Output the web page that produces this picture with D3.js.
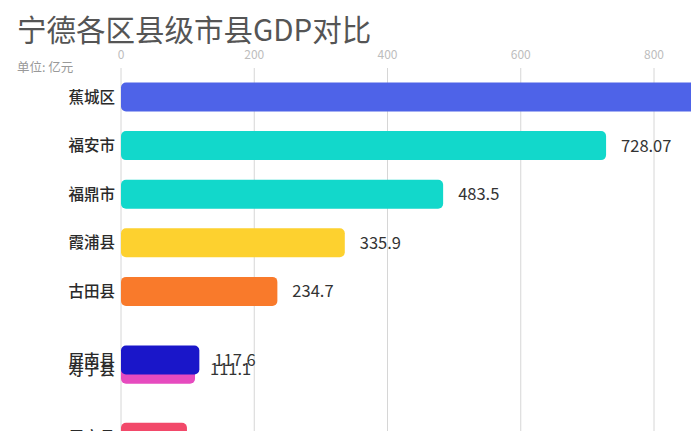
<!DOCTYPE html>
<html><head><meta charset="utf-8">
<script src="https://cdn.jsdelivr.net/npm/d3@7/dist/d3.min.js"></script>
<style>
html,body{margin:0;padding:0;background:#fff;overflow:hidden;}
svg{display:block;font-family:"Noto Sans CJK SC","Noto Sans",sans-serif;}
</style></head>
<body>
<svg id="chart" width="691" height="431"></svg>
<script>
// Data (frame of an animated ranking; rank is the interpolated ranking state)
const categories = ["周宁县","寿宁县","屏南县","古田县","霞浦县","福鼎市","福安市","蕉城区"];
const values     = [99, 111.1, 117.6, 234.7, 335.9, 483.5, 728.07, 925];
const ranks      = [7, 5.6, 5.41, 4, 3, 2, 1, 0];
const colors     = ["#f2496a","#e64bbf","#1a16c9","#f97a2b","#fdd12f","#12d8cb","#12d8cb","#4e63e8"];
const tickValues = [0, 200, 400, 600, 800];
const titleText = "宁德各区县级市县GDP对比";
const unitText = "单位: 亿元";

const svg = d3.select("#chart");
const W = 691, H = 431;
const x = d3.scaleLinear().domain([0, 800]).range([121, 654]);
const y = d3.scaleLinear().domain([0, 1]).range([82.5, 131.1]);
const barH = 29;

// title
svg.append("text").attr("x", 17).attr("y", 41)
  .attr("font-size", 29.5).attr("fill", "#555").text(titleText);
svg.append("text").attr("x", 17).attr("y", 72)
  .attr("font-size", 12.5).attr("fill", "#999").text(unitText);

// grid + tick labels
const g = svg.append("g");
g.selectAll("line.grid").data(tickValues).join("line")
  .attr("class","grid")
  .attr("x1", d => x(d)).attr("x2", d => x(d))
  .attr("y1", 68).attr("y2", H)
  .attr("stroke", "#d6d6d6").attr("stroke-width", 1);
g.selectAll("text.tick").data(tickValues).join("text")
  .attr("class","tick")
  .attr("x", d => x(d)).attr("y", 59)
  .attr("text-anchor", "middle")
  .attr("font-size", 12).attr("fill", "#bdbdbd")
  .text(d => d);

const data = categories.map((c, i) => ({name: c, value: values[i], rank: ranks[i], color: colors[i]}));

const bars = svg.append("g");
const items = bars.selectAll("g.item").data(data).join("g").attr("class","item");
items.append("rect")
  .attr("x", x(0))
  .attr("y", d => y(d.rank))
  .attr("width", d => x(d.value) - x(0))
  .attr("height", barH)
  .attr("rx", 5).attr("ry", 5)
  .attr("fill", d => d.color);
items.append("text")
  .attr("x", 115)
  .attr("y", d => y(d.rank) + barH / 2)
  .attr("dy", "0.36em")
  .attr("text-anchor", "end")
  .attr("font-size", 15.5).attr("font-weight", 500).attr("fill", "#2a2a2a")
  .text(d => d.name);
items.append("text")
  .attr("x", d => x(d.value) + 15)
  .attr("y", d => y(d.rank) + barH / 2)
  .attr("dy", "0.36em")
  .attr("font-size", 16.5).attr("fill", "#333")
  .text(d => d.value);
</script>
</body></html>
